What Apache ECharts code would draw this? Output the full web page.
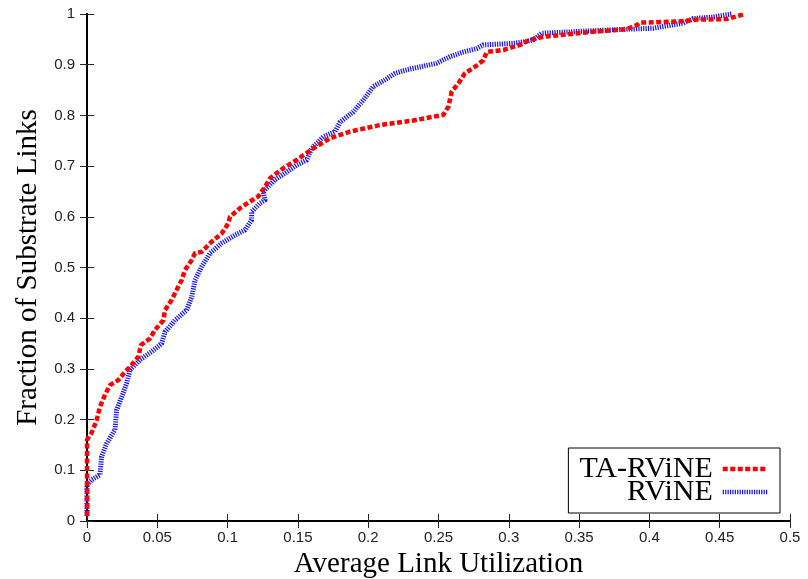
<!DOCTYPE html>
<html>
<head>
<meta charset="utf-8">
<script src="https://cdn.jsdelivr.net/npm/echarts@6/dist/echarts.min.js"></script>
<style>
  html, body { margin: 0; padding: 0; background: #fff; }
  #chart { width: 808px; height: 579px; }
</style>
</head>
<body>
<div id="chart"></div>
<script>
// CDF of average link utilization, as [utilization, fraction] pairs
const taRvine = [
  [0, 0.01], [0, 0.16], [0.0033, 0.174], [0.0069, 0.199], [0.0092, 0.225],
  [0.0128, 0.249], [0.0164, 0.268], [0.0223, 0.278], [0.027, 0.294],
  [0.0306, 0.304], [0.0365, 0.324], [0.0384, 0.347], [0.0448, 0.36],
  [0.0484, 0.377], [0.0543, 0.396], [0.0555, 0.416], [0.0602, 0.436],
  [0.0638, 0.456], [0.0673, 0.475], [0.0697, 0.495], [0.0745, 0.515],
  [0.0768, 0.528], [0.0816, 0.531], [0.0887, 0.551], [0.0958, 0.567],
  [0.1005, 0.587], [0.1017, 0.6], [0.1088, 0.617], [0.1159, 0.63],
  [0.1218, 0.64], [0.1266, 0.659], [0.1302, 0.676], [0.1397, 0.696],
  [0.1491, 0.712], [0.161, 0.735], [0.1728, 0.755], [0.187, 0.768],
  [0.2084, 0.781], [0.2321, 0.79], [0.2534, 0.801], [0.257, 0.817],
  [0.2594, 0.847], [0.2641, 0.863], [0.2688, 0.883], [0.276, 0.896],
  [0.2819, 0.909], [0.2843, 0.925], [0.2961, 0.929], [0.308, 0.939],
  [0.315, 0.949], [0.3245, 0.955], [0.3388, 0.959], [0.36, 0.965],
  [0.3838, 0.97], [0.391, 0.978], [0.3933, 0.983], [0.4194, 0.985],
  [0.4336, 0.989], [0.455, 0.99], [0.468, 1.0]
];

const rvine = [
  [0, 0.01], [0, 0.071], [0.0033, 0.081], [0.0092, 0.091], [0.0104, 0.127],
  [0.014, 0.153], [0.0199, 0.18], [0.0211, 0.219], [0.0247, 0.245],
  [0.0282, 0.272], [0.0306, 0.298], [0.0377, 0.318], [0.046, 0.334],
  [0.0531, 0.35], [0.0555, 0.373], [0.0626, 0.396], [0.0709, 0.416],
  [0.0745, 0.442], [0.0768, 0.475], [0.0816, 0.502], [0.0875, 0.528],
  [0.0958, 0.548], [0.1053, 0.564], [0.1124, 0.574], [0.1171, 0.594],
  [0.1171, 0.61], [0.123, 0.627], [0.1266, 0.633], [0.1254, 0.65],
  [0.1337, 0.673], [0.1408, 0.686], [0.1491, 0.702], [0.1563, 0.712],
  [0.1598, 0.735], [0.1681, 0.758], [0.1764, 0.768], [0.18, 0.787],
  [0.1894, 0.807], [0.1965, 0.83], [0.2036, 0.857], [0.2119, 0.87],
  [0.2191, 0.883], [0.2274, 0.89], [0.2487, 0.903], [0.2582, 0.916],
  [0.2677, 0.925], [0.2772, 0.932], [0.2819, 0.939], [0.3032, 0.942],
  [0.3103, 0.945], [0.3174, 0.949], [0.3234, 0.962], [0.3388, 0.964],
  [0.36, 0.967], [0.3838, 0.97], [0.4028, 0.972], [0.424, 0.982],
  [0.4312, 0.991], [0.4455, 0.994], [0.4585, 1.0]
];

const seriesNames = ['TA-RViNE', 'RViNE'];
const xTitle = 'Average Link Utilization';
const yTitle = 'Fraction of Substrate Links';

const serif = '"Liberation Serif", "DejaVu Serif", serif';
const sans = '"Liberation Sans", Arial, sans-serif';

const tickStyle = { show: true, inside: true, length: 7, lineStyle: { color: '#222', width: 1 } };
const frameLine = { show: true, lineStyle: { color: '#000', width: 2 } };

const chart = echarts.init(document.getElementById('chart'), null, { renderer: 'canvas' });

chart.setOption({
  animation: false,
  backgroundColor: '#fff',
  grid: { left: 87, right: 18, top: 14, bottom: 58, containLabel: false, outerBoundsMode: 'none' },
  legend: {
    orient: 'vertical',
    right: 28,
    bottom: 66,
    align: 'right',
    itemWidth: 45,
    itemHeight: 14,
    itemGap: -7,
    padding: [6, 10, 6, 11],
    backgroundColor: '#fff',
    borderColor: '#000',
    borderWidth: 1,
    borderRadius: 0,
    itemStyle: { opacity: 0 },
    lineStyle: { width: 4.5 },
    textStyle: {
      fontFamily: serif,
      fontSize: 30,
      color: '#000',
      lineHeight: 22,
      padding: [0, 5, 0, 0]
    },
    data: seriesNames
  },
  xAxis: [{
    type: 'value',
    min: 0, max: 0.5, interval: 0.05,
    name: xTitle,
    nameLocation: 'middle',
    nameGap: 29,
    nameTextStyle: { fontFamily: serif, fontSize: 29, color: '#000' },
    axisLine: frameLine,
    axisTick: tickStyle,
    axisLabel: { margin: 9, fontFamily: sans, fontSize: 15, color: '#222' },
    splitLine: { show: false }
  }, {
    type: 'value',
    position: 'top',
    min: 0, max: 0.5, interval: 0.05,
    axisLine: frameLine,
    axisTick: tickStyle,
    axisLabel: { show: false },
    splitLine: { show: false }
  }],
  yAxis: [{
    type: 'value',
    min: 0, max: 1, interval: 0.1,
    name: yTitle,
    nameLocation: 'middle',
    nameGap: 44,
    nameTextStyle: { fontFamily: serif, fontSize: 29, color: '#000' },
    axisLine: frameLine,
    axisTick: tickStyle,
    axisLabel: { margin: 12, fontFamily: sans, fontSize: 15, color: '#222' },
    splitLine: { show: false }
  }, {
    type: 'value',
    position: 'right',
    min: 0, max: 1, interval: 0.1,
    axisLine: frameLine,
    axisTick: tickStyle,
    axisLabel: { show: false },
    splitLine: { show: false }
  }],
  series: [{
    name: seriesNames[0],
    type: 'line',
    data: taRvine,
    symbol: 'none',
    clip: false,
    z: 3,
    lineStyle: { color: '#ff0000', width: 4.5, type: [5, 2.5], cap: 'butt', join: 'round' },
    itemStyle: { color: '#ff0000' }
  }, {
    name: seriesNames[1],
    type: 'line',
    data: rvine,
    symbol: 'none',
    clip: false,
    z: 2,
    lineStyle: { color: '#1010ff', width: 5, type: [1.2, 1.2], cap: 'butt', join: 'round' },
    itemStyle: { color: '#1010ff' }
  }]
});
</script>
</body>
</html>
